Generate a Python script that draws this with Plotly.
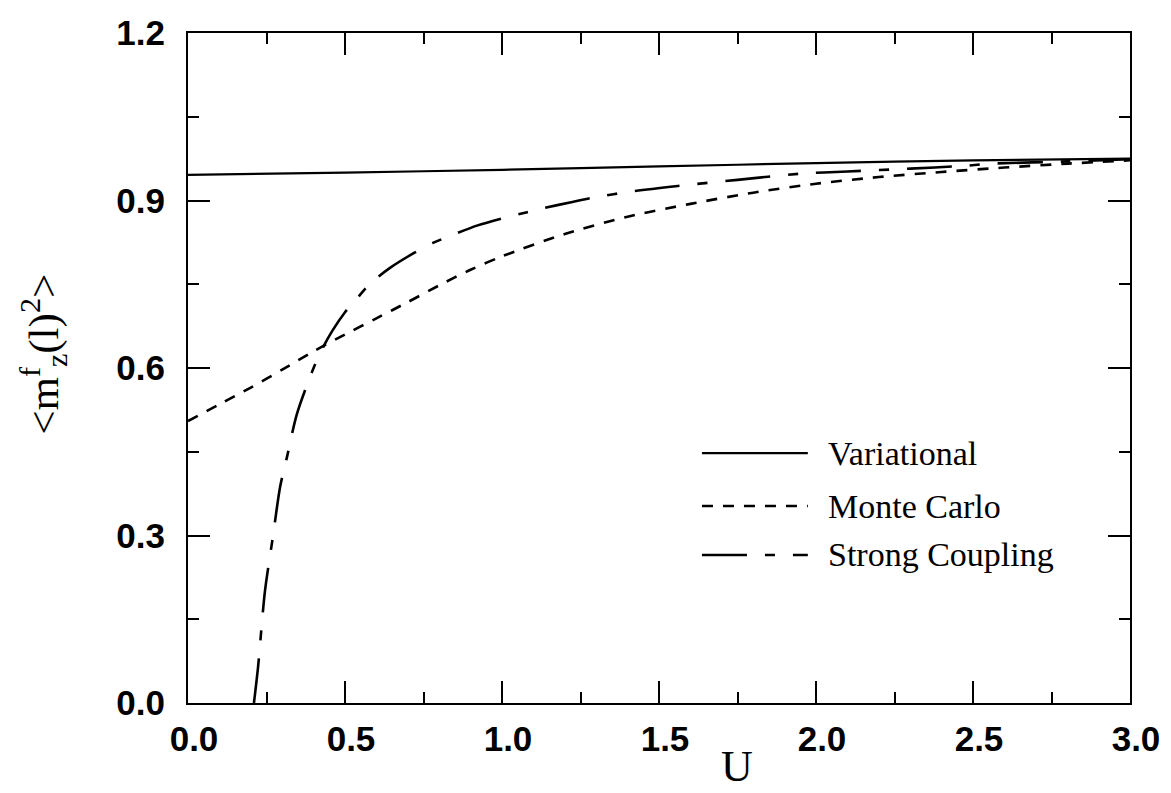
import plotly.graph_objects as go

# Coupling strength U and the local moment <m_z^f(l)^2> for each method
u_var = [0.0, 0.5, 1.0, 1.5, 2.0, 2.5, 3.0]
m_var = [0.946, 0.950, 0.955, 0.961, 0.967, 0.972, 0.975]

u_mc = [0.0, 0.1, 0.2, 0.3, 0.4, 0.5, 0.6, 0.7, 0.8, 0.9, 1.0,
        1.2, 1.4, 1.6, 1.8, 2.0, 2.2, 2.4, 2.6, 2.8, 3.0]
m_mc = [0.505, 0.535, 0.565, 0.597, 0.630, 0.660, 0.689, 0.718, 0.748, 0.776, 0.800,
        0.840, 0.871, 0.894, 0.914, 0.930, 0.942, 0.951, 0.959, 0.966, 0.972]

u_sc = [0.21, 0.223, 0.245, 0.271, 0.293, 0.315, 0.347, 0.40, 0.43, 0.46, 0.50,
        0.54, 0.58, 0.64, 0.72, 0.78, 0.85, 0.92, 1.0, 1.08, 1.13, 1.22,
        1.29, 1.41, 1.56, 1.75, 1.95, 2.1, 2.3, 2.47, 2.56, 2.8, 3.0]
m_sc = [0.0, 0.064, 0.200, 0.300, 0.386, 0.440, 0.518, 0.600, 0.637, 0.667, 0.700,
        0.726, 0.751, 0.778, 0.806, 0.824, 0.840, 0.855, 0.868, 0.879, 0.886, 0.897,
        0.905, 0.916, 0.926, 0.937, 0.948, 0.952, 0.957, 0.962, 0.966, 0.970, 0.974]

names = ["Variational", "Monte Carlo", "Strong Coupling"]
dashes = ["solid", "11px,10px", "45px,18px,10px,18px"]
widths = [2.2, 2.6, 2.6]

x_ticks = [0.0, 0.5, 1.0, 1.5, 2.0, 2.5, 3.0]
y_ticks = [0.0, 0.3, 0.6, 0.9, 1.2]

series = [(u_var, m_var), (u_mc, m_mc), (u_sc, m_sc)]

fig = go.Figure()
for (xs, ys), name, dash, w in zip(series, names, dashes, widths):
    fig.add_trace(go.Scatter(
        x=xs, y=ys, mode="lines", name=name,
        line=dict(color="black", width=w, dash=dash, shape="spline", smoothing=0.8),
        showlegend=False,
    ))

# Hand-drawn key: long line samples with labels to their right
key_x0, key_x1, key_text_x = 0.5456, 0.658, 0.677
key_rows = [0.373, 0.294, 0.221]
for name, dash, w, ky in zip(names, dashes, widths, key_rows):
    fig.add_shape(type="line", xref="paper", yref="paper",
                  x0=key_x0, x1=key_x1, y0=ky, y1=ky,
                  line=dict(color="black", width=w, dash=dash))
    fig.add_annotation(x=key_text_x, y=ky, xref="paper", yref="paper",
                       text=name, showarrow=False, xanchor="left", yanchor="middle",
                       font=dict(family="Liberation Serif", size=34, color="black"))

# Axis titles
fig.add_annotation(x=-0.153, y=0.521, xref="paper", yref="paper", textangle=-90,
                   text="&lt;m<sup>f</sup><sub>z</sub>(l)<sup>2</sup>&gt;",
                   showarrow=False, xanchor="center", yanchor="middle",
                   font=dict(family="Liberation Serif", size=43, color="black"))
fig.add_annotation(x=0.583, y=-0.134, xref="paper", yref="paper",
                   text="U", showarrow=False, xanchor="center", yanchor="bottom",
                   font=dict(family="Liberation Serif", size=44, color="black"))

axis_common = dict(
    showline=True, linecolor="black", linewidth=2, mirror="allticks",
    ticks="inside", ticklen=22, tickwidth=2, tickcolor="black",
    showgrid=False, zeroline=False,
    tickfont=dict(family="Liberation Sans", size=35, color="black", weight="bold"),
)

fig.update_xaxes(range=[0, 3], tickvals=x_ticks, tickformat=".1f",
                 minor=dict(dtick=0.25, ticklen=11, tickwidth=2, tickcolor="black", ticks="inside"),
                 ticklabelstandoff=4, ticklabelshift=6, **axis_common)
fig.update_yaxes(range=[0, 1.2], tickvals=y_ticks, tickformat=".1f",
                 minor=dict(dtick=0.15, ticklen=11, tickwidth=2, tickcolor="black", ticks="inside"),
                 ticklabelstandoff=14, **axis_common)

fig.update_layout(
    width=1171, height=793,
    margin=dict(l=188, r=41, t=33, b=90),
    paper_bgcolor="white", plot_bgcolor="white",
    showlegend=False,
)

fig.write_html("out.html")
